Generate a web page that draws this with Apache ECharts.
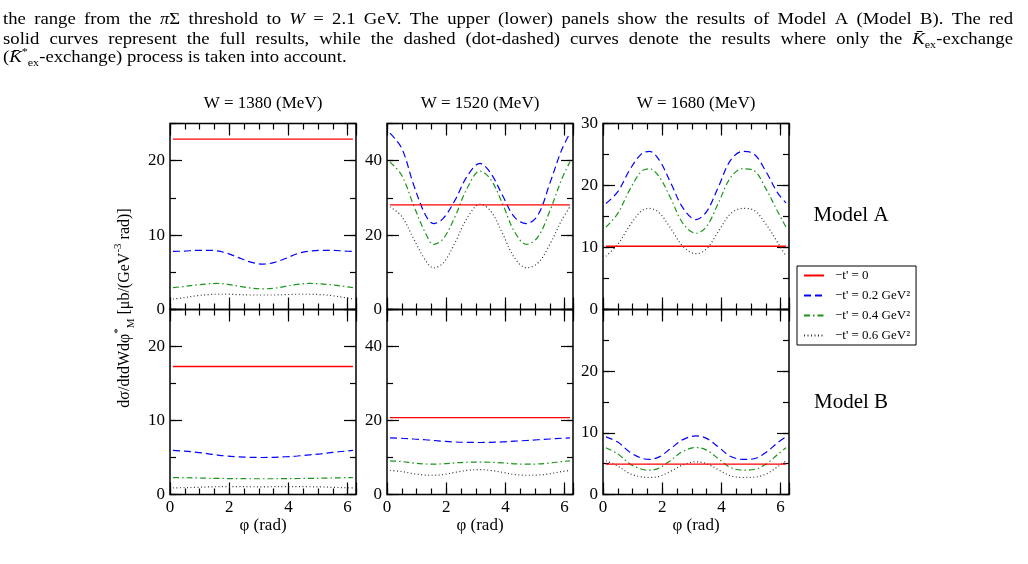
<!DOCTYPE html>
<html><head><meta charset="utf-8">
<script src="https://cdn.jsdelivr.net/npm/echarts@6/dist/echarts.min.js"></script>
<style>html,body{margin:0;padding:0;background:#fff;}#c{width:1028px;height:564px;}</style>
</head><body><div id="c"></div>
<script>
// ---------------- data ----------------
const PHI = [0.1, 0.5, 0.9, 1.3, 1.57, 1.9, 2.3, 2.7, 3.14, 3.5, 3.9, 4.3, 4.71, 5.1, 5.5, 5.9, 6.18];
const PHI_ENDS = [0.1, 6.18];
const PHI_MAX = 6.2832;
const SERIES_NAMES = ["\u2212t' = 0", "\u2212t' = 0.2 GeV\u00B2", "\u2212t' = 0.4 GeV\u00B2", "\u2212t' = 0.6 GeV\u00B2"];
const W_LABELS = ['W = 1380 (MeV)', 'W = 1520 (MeV)', 'W = 1680 (MeV)'];
const MODEL_LABELS = ['Model A', 'Model B'];
const X_NAME = '\u03C6 (rad)';
const Y_MAX = [25, 50, 30];
const Y_MAJOR = [10, 20, 10];
const Y_MINOR = [5, 10, 5];

// Model A (upper row)
const A1380_t0 = [22.9, 22.9];
const A1380_t02 = [7.8, 7.85, 7.95, 7.95, 7.9, 7.6, 7.0, 6.4, 6.1, 6.3, 6.85, 7.5, 7.85, 7.95, 7.95, 7.85, 7.8];
const A1380_t04 = [2.95, 3.1, 3.3, 3.45, 3.5, 3.42, 3.15, 2.9, 2.78, 2.85, 3.1, 3.38, 3.5, 3.45, 3.3, 3.1, 2.95];
const A1380_t06 = [1.4, 1.6, 1.85, 2.0, 2.05, 2.05, 2.0, 1.95, 1.95, 1.95, 2.0, 2.05, 2.05, 2.0, 1.85, 1.6, 1.4];

const A1520_t0 = [28.1, 28.1];
const A1520_t02 = [47.4, 43.3, 33.5, 25.4, 23.1, 24.5, 29.4, 35.7, 39.3, 36.7, 30.7, 24.9, 23.1, 25.4, 33.9, 42.9, 47.4];
const A1520_t04 = [39.7, 36.0, 28.0, 20.5, 17.5, 19.0, 25.0, 32.5, 37.2, 35.0, 28.5, 21.0, 17.5, 19.5, 26.5, 35.0, 39.7];
const A1520_t06 = [27.6, 25.0, 19.0, 13.2, 11.2, 12.5, 18.0, 24.5, 28.3, 26.5, 20.5, 14.0, 11.2, 12.5, 17.5, 24.0, 27.6];

const A1680_t0 = [10.2, 10.2];
const A1680_t02 = [17.1, 19.0, 22.5, 25.1, 25.5, 24.1, 20.3, 16.4, 14.5, 15.8, 19.8, 24.0, 25.5, 25.1, 22.3, 18.8, 17.2];
const A1680_t04 = [13.3, 15.5, 19.3, 22.3, 22.7, 21.4, 17.8, 13.9, 12.3, 13.4, 17.2, 21.2, 22.7, 22.4, 19.5, 15.8, 13.3];
const A1680_t06 = [8.6, 10.5, 13.5, 15.9, 16.3, 15.6, 13.0, 10.2, 9.0, 9.8, 12.6, 15.4, 16.3, 16.0, 13.8, 10.8, 8.6];

// Model B (lower row)
const B1380_t0 = [17.3, 17.3];
const B1380_t02 = [5.95, 5.85, 5.7, 5.5, 5.35, 5.2, 5.1, 5.03, 5.0, 5.03, 5.1, 5.2, 5.35, 5.5, 5.7, 5.85, 5.95];
const B1380_t04 = [2.28, 2.27, 2.24, 2.2, 2.18, 2.16, 2.14, 2.13, 2.13, 2.13, 2.14, 2.16, 2.18, 2.2, 2.24, 2.27, 2.28];
const B1380_t06 = [0.9, 0.92, 0.97, 1.02, 1.05, 1.07, 1.07, 1.05, 1.04, 1.05, 1.07, 1.07, 1.05, 1.02, 0.97, 0.92, 0.9];

const B1520_t0 = [20.8, 20.8];
const B1520_t02 = [15.3, 15.2, 15.0, 14.8, 14.6, 14.4, 14.2, 14.1, 14.05, 14.1, 14.2, 14.4, 14.6, 14.8, 15.0, 15.2, 15.3];
const B1520_t04 = [9.1, 8.9, 8.5, 8.25, 8.2, 8.3, 8.55, 8.72, 8.75, 8.72, 8.55, 8.3, 8.2, 8.25, 8.5, 8.9, 9.1];
const B1520_t06 = [6.5, 6.2, 5.6, 5.25, 5.2, 5.4, 6.0, 6.5, 6.75, 6.5, 6.0, 5.4, 5.2, 5.25, 5.6, 6.2, 6.5];

const B1680_t0 = [4.92, 4.92];
const B1680_t02 = [9.35, 8.5, 6.9, 5.9, 5.7, 6.1, 7.5, 8.9, 9.5, 9.1, 7.7, 6.2, 5.7, 5.8, 6.8, 8.4, 9.35];
const B1680_t04 = [7.57, 6.6, 5.0, 4.1, 3.95, 4.3, 5.6, 7.0, 7.62, 7.2, 5.8, 4.4, 3.95, 4.05, 4.9, 6.5, 7.57];
const B1680_t06 = [5.46, 4.6, 3.4, 2.85, 2.76, 2.95, 3.8, 4.8, 5.3, 5.0, 4.0, 3.05, 2.76, 2.8, 3.3, 4.5, 5.46];

const PANELS = [
  [[A1380_t0, A1380_t02, A1380_t04, A1380_t06], [A1520_t0, A1520_t02, A1520_t04, A1520_t06], [A1680_t0, A1680_t02, A1680_t04, A1680_t06]],
  [[B1380_t0, B1380_t02, B1380_t04, B1380_t06], [B1520_t0, B1520_t02, B1520_t04, B1520_t06], [B1680_t0, B1680_t02, B1680_t04, B1680_t06]]
];

const CAPTION = [
  {text: "the range from the {i|\u03C0}\u03A3 threshold to {i|W} = 2.1 GeV. The upper (lower) panels show the results of Model A (Model B). The red", justify: true},
  {text: "solid curves represent the full results, while the dashed (dot-dashed) curves denote the results where only the {i|K\u0304}{sub|ex}-exchange", justify: true},
  {text: "({i|K\u0304}{sup|*}{sub|ex}-exchange) process is taken into account.", justify: false}
];

// ---------------- layout / style ----------------
const FONT = '"Liberation Serif", "Times New Roman", serif';
const COL_LEFT = [170, 387, 603];
const COL_W = 186;
const ROW_TOP = [123.5, 309.5];
const ROW_H = [186, 185];
const LINE_STYLES = [
  {color: '#ff0000', type: 'solid', width: 1.3},
  {color: '#0000ff', type: [7, 4], width: 1.2},
  {color: '#1a961a', type: [6, 3, 1.5, 3], width: 1.2},
  {color: '#333333', type: [1, 2.5], width: 1.2}
];

const grids = [], xAxes = [], yAxes = [], series = [];
const tick = (len) => ({show: true, inside: true, length: len, lineStyle: {color: '#000', width: 1.2}});
const noLine = {show: false, onZero: false};
const lblStyle = {fontFamily: FONT, fontSize: 17, color: '#000'};

for (let r = 0; r < 2; r++) {
  for (let c = 0; c < 3; c++) {
    const gi = r * 3 + c;
    grids.push({left: COL_LEFT[c], top: ROW_TOP[r], width: COL_W, height: ROW_H[r],
      show: true, borderColor: '#000', borderWidth: 1.5, backgroundColor: 'transparent', containLabel: false});
    const xb = {gridIndex: gi, type: 'value', min: 0, max: PHI_MAX, axisLine: noLine, splitLine: {show: false}, axisLabel: {show: false}};
    const bottomLabels = r === 1 ? Object.assign({show: true, margin: 5,
      formatter: v => (Math.abs(v - Math.round(v)) < 1e-6 && Math.round(v) % 2 === 0) ? String(Math.round(v)) : ''}, lblStyle) : {show: false};
    xAxes.push(Object.assign({}, xb, {position: 'bottom', interval: 2, axisTick: tick(12), axisLabel: bottomLabels,
      name: r === 1 ? X_NAME : '', nameLocation: 'middle', nameGap: 22, nameTextStyle: {fontFamily: FONT, fontSize: 17, color: '#000'}}));
    xAxes.push(Object.assign({}, xb, {position: 'bottom', interval: 0.5, axisTick: tick(6)}));
    xAxes.push(Object.assign({}, xb, {position: 'top', interval: 2, axisTick: tick(12)}));
    xAxes.push(Object.assign({}, xb, {position: 'top', interval: 0.5, axisTick: tick(6)}));

    const yb = {gridIndex: gi, type: 'value', min: 0, max: Y_MAX[c], axisLine: noLine, splitLine: {show: false}, axisLabel: {show: false}};
    const maj = Y_MAJOR[c], mx = Y_MAX[c];
    yAxes.push(Object.assign({}, yb, {position: 'left', interval: maj, axisTick: tick(12),
      axisLabel: Object.assign({show: true, margin: 5, formatter: v => {
        if (v % maj !== 0) return '';
        if (r === 1 && v === mx) return '';
        return String(v);
      }}, lblStyle)}));
    yAxes.push(Object.assign({}, yb, {position: 'left', interval: Y_MINOR[c], axisTick: tick(6)}));
    yAxes.push(Object.assign({}, yb, {position: 'right', interval: maj, axisTick: tick(12)}));
    yAxes.push(Object.assign({}, yb, {position: 'right', interval: Y_MINOR[c], axisTick: tick(6)}));

    const sets = PANELS[r][c];
    for (let k = 0; k < 4; k++) {
      const xs = sets[k].length === 2 ? PHI_ENDS : PHI;
      series.push({
        name: SERIES_NAMES[k], type: 'line', xAxisIndex: gi * 4, yAxisIndex: gi * 4,
        data: xs.map((p, i) => [p, sets[k][i]]),
        symbol: 'none', smooth: 0.35, silent: true, animation: false,
        lineStyle: Object.assign({}, LINE_STYLES[k]), itemStyle: {color: LINE_STYLES[k].color},
        z: 4 - k
      });
    }
  }
}

// ---------------- graphic texts ----------------
const graphics = [];
W_LABELS.forEach((t, c) => graphics.push({type: 'text', x: COL_LEFT[c] + COL_W / 2, y: 104,
  style: {text: t, fill: '#000', fontFamily: FONT, fontSize: 17, align: 'center', verticalAlign: 'middle'}}));
graphics.push({type: 'text', x: 851, y: 215, style: {text: MODEL_LABELS[0], fill: '#000', fontFamily: FONT, fontSize: 21, align: 'center', verticalAlign: 'middle'}});
graphics.push({type: 'text', x: 851, y: 402, style: {text: MODEL_LABELS[1], fill: '#000', fontFamily: FONT, fontSize: 21, align: 'center', verticalAlign: 'middle'}});

// y-axis title (rotated, rich text)
graphics.push({type: 'text', x: 125, y: 308, rotation: Math.PI / 2,
  style: {
    text: 'd\u03C3/dtdWd\u03C6{sup|*}{sub|M} [\u03BCb/(GeV{sup|-3} rad)]',
    fill: '#000', fontFamily: FONT, fontSize: 16, lineHeight: 24, align: 'center', verticalAlign: 'middle',
    rich: {
      sup: {fontFamily: FONT, fontSize: 11, lineHeight: 12, verticalAlign: 'top', fill: '#000'},
      sub: {fontFamily: FONT, fontSize: 11, lineHeight: 12, verticalAlign: 'bottom', fill: '#000'}
    }
  }});

// caption (justified, word by word), slightly widened like the TeX face
const CAP_SIZE = 17;
const CAP_SX = 1.1;
const CAP_RICH = {
  i: {fontFamily: FONT, fontSize: CAP_SIZE, fontStyle: 'italic', fill: '#000', lineHeight: 22},
  sub: {fontFamily: FONT, fontSize: 11, fill: '#000', lineHeight: 11, verticalAlign: 'bottom'},
  sup: {fontFamily: FONT, fontSize: 11, fill: '#000', lineHeight: 11, verticalAlign: 'top'}
};
const mctx = document.createElement('canvas').getContext('2d');
function segs(word) {
  const out = []; const re = /\{(\w+)\|([^}]*)\}/g; let last = 0, m;
  while ((m = re.exec(word))) { if (m.index > last) out.push({s: null, t: word.slice(last, m.index)}); out.push({s: m[1], t: m[2]}); last = re.lastIndex; }
  if (last < word.length) out.push({s: null, t: word.slice(last)});
  return out;
}
function measure(word) {
  let w = 0;
  segs(word).forEach(sg => {
    const st = sg.s ? CAP_RICH[sg.s] : {fontSize: CAP_SIZE};
    mctx.font = (st.fontStyle || 'normal') + ' ' + st.fontSize + 'px ' + FONT;
    w += mctx.measureText(sg.t).width;
  });
  return w * CAP_SX;
}
const CAP_X0 = 3, CAP_X1 = 1013, CAP_Y = [20, 39.5, 58];
CAPTION.forEach((ln, li) => {
  const words = ln.text.split(' ');
  const widths = words.map(measure);
  const sum = widths.reduce((a, b) => a + b, 0);
  mctx.font = 'normal ' + CAP_SIZE + 'px ' + FONT;
  const gap = ln.justify ? (CAP_X1 - CAP_X0 - sum) / (words.length - 1) : mctx.measureText(' ').width * CAP_SX;
  let x = CAP_X0;
  words.forEach((w, i) => {
    graphics.push({type: 'text', x: x, y: CAP_Y[li], scaleX: CAP_SX, silent: true,
      style: {text: w, fill: '#000', fontFamily: FONT, fontSize: CAP_SIZE, lineHeight: 22, align: 'left', verticalAlign: 'middle', rich: CAP_RICH}});
    x += widths[i] + gap;
  });
});

const chart = echarts.init(document.getElementById('c'), null, {renderer: 'canvas'});
chart.setOption({
  animation: false,
  backgroundColor: '#fff',
  grid: grids, xAxis: xAxes, yAxis: yAxes, series: series,
  legend: {
    data: SERIES_NAMES, orient: 'vertical', left: 797, top: 266,
    itemWidth: 20, itemHeight: 14, itemGap: 7, padding: [3, 6, 3, 6],
    borderColor: '#000', borderWidth: 1, backgroundColor: '#fff', selectedMode: false,
    itemStyle: {opacity: 0},
    textStyle: {fontFamily: FONT, fontSize: 13, color: '#000', padding: [0, 0, 0, 6]}
  },
  graphic: {elements: graphics}
});
</script></body></html>
